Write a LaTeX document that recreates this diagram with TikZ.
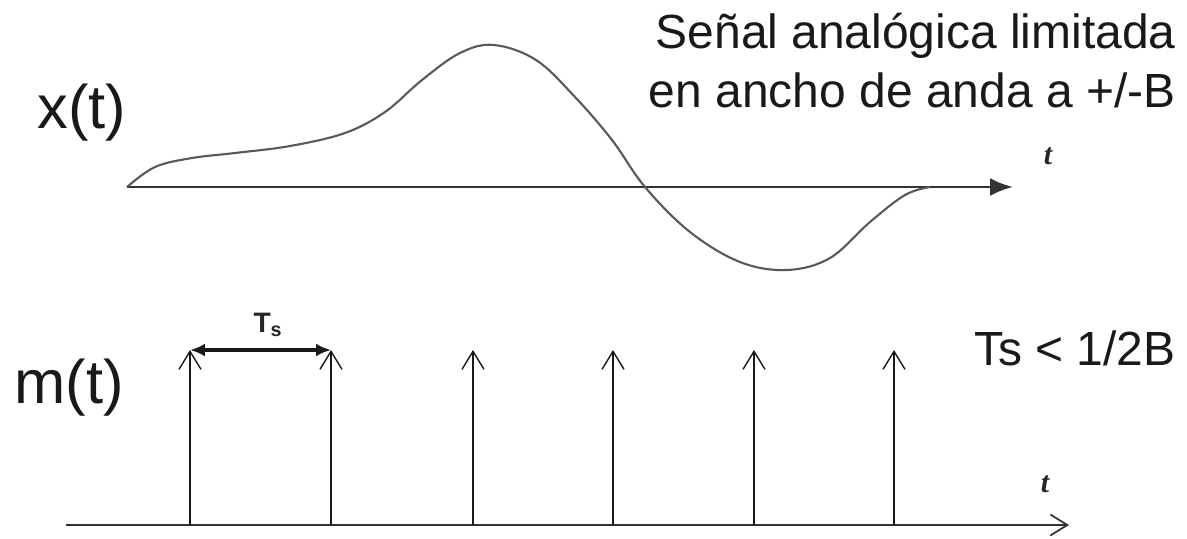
\documentclass[tikz,border=0pt]{standalone}
\usepackage{fontspec}
\setmainfont{Liberation Sans}
\newfontfamily\timesfont{Liberation Serif}
\usepackage{tikz}
\usetikzlibrary{arrows.meta, positioning}
\tikzset{
  sigaxis/.style={
    line width=1.6pt, draw=black!80
  },
  sigcurve/.style={
    line width=1.2pt, draw=black!65, line join=round
  },
  impulse/.style={
    line width=0.9pt, draw=black!90,
    -{Straight Barb[length=0.36cm, width=0.44cm, line width=0.8pt]}
  },
  tsarrow/.style={
    {Latex[length=0.3cm, width=0.26cm]}-{Latex[length=0.3cm, width=0.26cm]},
    line width=2pt, draw=black!90
  },
  siglabel/.style={
    font=\fontsize{35}{40}\selectfont, text=black!90, inner sep=0pt
  },
  notelabel/.style={
    font=\fontsize{27.3}{34}\selectfont, text=black!90, inner sep=0pt
  },
  tlabel/.style={
    font=\timesfont\itshape\bfseries\fontsize{17}{19}\selectfont,
    text=black!85, inner sep=0pt
  },
  tslabel/.style={
    font=\bfseries\fontsize{16}{18}\selectfont, text=black!85, inner sep=0pt
  },
}

\begin{document}
\begin{tikzpicture}[x=0.02cm, y=-0.02cm]
  \useasboundingbox (0,0) rectangle (1187,538);

  % Analog signal: axis
  \coordinate (xo) at (127,187);
  \coordinate (xe) at (1013,187);
  \draw[sigaxis, -{Latex[length=0.46cm, width=0.36cm]}] (xo) -- (xe);
  \node[tlabel] (xt) at (1048,156) {t};

  % Analog signal: waveform
  \draw[sigcurve] plot[smooth, tension=0.6] coordinates {
    (127,187) (155,167) (192,158) (235,153) (290,146) (345,133)
    (385,112) (422,80) (460,53) (494,45) (536,60) (575,97)
    (612,140) (645,187) (690,232) (740,262) (787,270)
    (830,258) (870,222) (905,195) (930,187)
  };

  % Labels of the analog signal
  \node[siglabel, anchor=base west] (xlab) at (37,128) {x(t)};
  \node[notelabel, anchor=base east] (note1) at (1176,48)
    {Señal analógica limitada};
  \node[notelabel, anchor=base east] (note2) at (1176,107)
    {en ancho de anda a +/-B};

  % Sampling train: axis
  \coordinate (mo) at (66,525);
  \coordinate (me) at (1069,525);
  \draw[sigaxis, -{Straight Barb[length=0.34cm, width=0.42cm, line width=1pt]}]
    (mo) -- (me);
  \node[tlabel] (mt) at (1045,484) {t};

  % Sampling train: impulses
  \foreach \k/\xp in {1/190, 2/331, 3/473, 4/613, 5/754, 6/894} {
    \coordinate (b\k) at (\xp,525);
    \coordinate (p\k) at (\xp,350);
    \draw[impulse] (b\k) -- (p\k);
  }

  % Sampling period
  \draw[tsarrow] (p1) -- (p2);
  \node[tslabel, anchor=base] (ts) at (268,332) {T\textsubscript{s}};

  % Labels of the sampling train
  \node[siglabel, anchor=base west] (mlab) at (14,403) {m(t)};
  \node[notelabel, anchor=base east] (cond) at (1176,365) {Ts < 1/2B};
\end{tikzpicture}
\end{document}
